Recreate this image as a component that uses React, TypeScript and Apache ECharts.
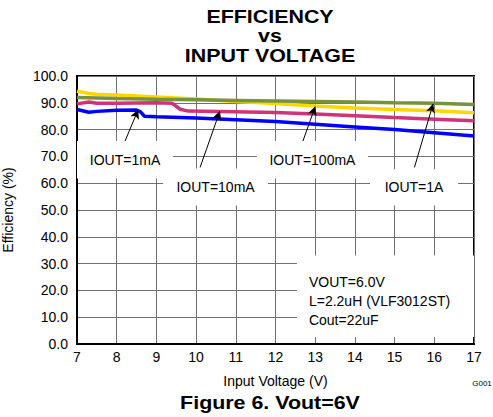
import React, { useEffect, useRef } from "react";
import * as echarts from "echarts";

const xTicks = [7, 8, 9, 10, 11, 12, 13, 14, 15, 16, 17];

const vin1mA = [7, 7.3, 7.5, 8, 8.5, 8.6, 8.7, 9, 10, 11, 12, 13, 14, 15, 16, 17];
const eff1mA = [87.5, 86.5, 86.8, 87.2, 87.3, 86.6, 85.0, 84.8, 84.3, 83.7, 83.0, 82.0, 81.0, 80.0, 78.8, 77.6];

const vin10mA = [7, 7.3, 7.5, 8, 9, 9.4, 9.6, 9.8, 10.6, 12, 13, 14, 15, 16, 17];
const eff10mA = [89.6, 90.3, 89.8, 89.8, 90.0, 89.8, 87.6, 86.9, 86.8, 86.4, 85.8, 85.2, 84.5, 83.9, 83.3];

const vin100mA = [7, 7.3, 7.5, 8, 9, 10, 11, 12, 13, 14, 15, 16, 17];
const eff100mA = [94.3, 93.5, 93.2, 92.9, 92.2, 91.4, 90.5, 89.7, 88.8, 88.1, 87.5, 87.0, 86.3];

const vin1A = [7, 8, 9, 10, 11, 12, 13, 14, 15, 16, 17];
const eff1A = [92.0, 91.6, 91.3, 91.1, 90.9, 90.7, 90.5, 90.3, 90.0, 89.8, 89.4];

const seriesNames = ["IOUT=1mA", "IOUT=10mA", "IOUT=100mA", "IOUT=1A"];
const seriesColors = ["#0000FF", "#D2327A", "#FFD700", "#76923C"];

// label boxes [x0, y0, x1, y1] in data units
const labelBoxes = [
  [7.0, 61.8, 9.42, 75.7],
  [9.17, 51.7, 11.81, 65.5],
  [11.53, 61.8, 14.33, 75.7],
  [14.38, 51.7, 16.6, 65.2],
];
// arrows [fromX, fromY, toX, toY]
const arrows = [
  [8.21, 75.7, 8.54, 87.4],
  [10.1, 65.9, 10.6, 86.9],
  [12.69, 75.7, 13.0, 88.6],
  [15.5, 65.9, 15.97, 89.6],
];
const infoBox = [12.54, 2.6, 17, 33.0];
const infoLines = ["VOUT=6.0V", "L=2.2uH (VLF3012ST)", "Cout=22uF"];

const FONT = "Arial, 'Liberation Sans', sans-serif";

export default function App() {
  const ref = useRef<HTMLDivElement>(null);
  useEffect(() => {
    if (!ref.current) return;
    const chart = echarts.init(ref.current, null, { renderer: "svg" });
    const xs = [vin1mA, vin10mA, vin100mA, vin1A];
    const ys = [eff1mA, eff10mA, eff100mA, eff1A];
    const lineSeries = seriesNames.map((n, i) => ({
      name: n,
      type: "line",
      data: xs[i].map((x, j) => [x, ys[i][j]]),
      showSymbol: false,
      symbol: "none",
      lineStyle: { color: seriesColors[i], width: 3.5 },
      z: 3,
    }));
    const annotSeries = {
      type: "line",
      data: [],
      z: 4,
      markArea: {
        silent: true,
        itemStyle: { color: "#ffffff", opacity: 1, borderWidth: 0 },
        label: { show: true, position: "inside", color: "#000", fontSize: 14, fontFamily: FONT },
        data: [
          ...labelBoxes.map((b, i) => [
            { name: seriesNames[i], coord: [b[0], b[1]] },
            { coord: [b[2], b[3]] },
          ]),
          [
            {
              name: infoLines.join("\n"),
              coord: [infoBox[0], infoBox[1]],
              label: {
                position: [12, 17],
                align: "left",
                verticalAlign: "top",
                lineHeight: 19,
                fontSize: 14,
              },
            },
            { coord: [infoBox[2], infoBox[3]] },
          ],
        ],
      },
      markLine: {
        silent: true,
        symbol: ["none", "arrow"],
        symbolSize: [7, 9],
        label: { show: false },
        lineStyle: { color: "#000", width: 1, type: "solid" },
        data: arrows.map((a) => [{ coord: [a[0], a[1]] }, { coord: [a[2], a[3]] }]),
      },
    };
    chart.setOption({
      animation: false,
      textStyle: { fontFamily: FONT },
      grid: {
        left: 77,
        right: 19,
        top: 76,
        bottom: 73,
        outerBoundsMode: "none",
        containLabel: false,
        show: true,
        borderColor: "#000",
        borderWidth: 2,
        backgroundColor: "transparent",
      },
      xAxis: {
        type: "value",
        min: xTicks[0],
        max: xTicks[xTicks.length - 1],
        interval: 1,
        name: "Input Voltage (V)",
        nameLocation: "middle",
        nameGap: 30,
        nameTextStyle: { color: "#000", fontSize: 14, fontFamily: FONT },
        axisLine: { show: true, lineStyle: { color: "#000", width: 2 } },
        axisTick: { show: false },
        axisLabel: { color: "#000", fontSize: 14, margin: 6, fontFamily: FONT },
        splitLine: { show: true, lineStyle: { color: "#707070", width: 1 } },
      },
      yAxis: {
        type: "value",
        min: 0,
        max: 100,
        interval: 10,
        name: "Efficiency (%)",
        nameLocation: "middle",
        nameGap: 62,
        nameTextStyle: { color: "#000", fontSize: 14, fontFamily: FONT },
        axisLine: { show: true, lineStyle: { color: "#000", width: 2 } },
        axisTick: { show: false },
        axisLabel: {
          color: "#000",
          fontSize: 14,
          margin: 9,
          fontFamily: FONT,
          formatter: (v: number) => v.toFixed(1),
        },
        splitLine: { show: true, lineStyle: { color: "#707070", width: 1 } },
      },
      graphic: [
        { type: "text", x: 270, y: 17, scaleX: 1.19, style: { text: "EFFICIENCY", font: `bold 18px ${FONT}`, fill: "#000", textAlign: "center", textVerticalAlign: "middle" } },
        { type: "text", x: 270, y: 36, scaleX: 1.19, style: { text: "vs", font: `bold 18px ${FONT}`, fill: "#000", textAlign: "center", textVerticalAlign: "middle" } },
        { type: "text", x: 270, y: 56, scaleX: 1.19, style: { text: "INPUT VOLTAGE", font: `bold 18px ${FONT}`, fill: "#000", textAlign: "center", textVerticalAlign: "middle" } },
        { type: "text", x: 270, y: 403, scaleX: 1.19, style: { text: "Figure 6. Vout=6V", font: `bold 18px ${FONT}`, fill: "#000", textAlign: "center", textVerticalAlign: "middle" } },
        { type: "text", x: 482, y: 383, style: { text: "G001", font: `8px ${FONT}`, fill: "#000", textAlign: "center", textVerticalAlign: "middle" } },
      ],
      series: [...lineSeries, annotSeries],
    });
    return () => chart.dispose();
  }, []);
  return (
    <div
      ref={ref}
      style={{ position: "fixed", left: 0, top: 0, width: 493, height: 417, background: "#fff" }}
    />
  );
}
